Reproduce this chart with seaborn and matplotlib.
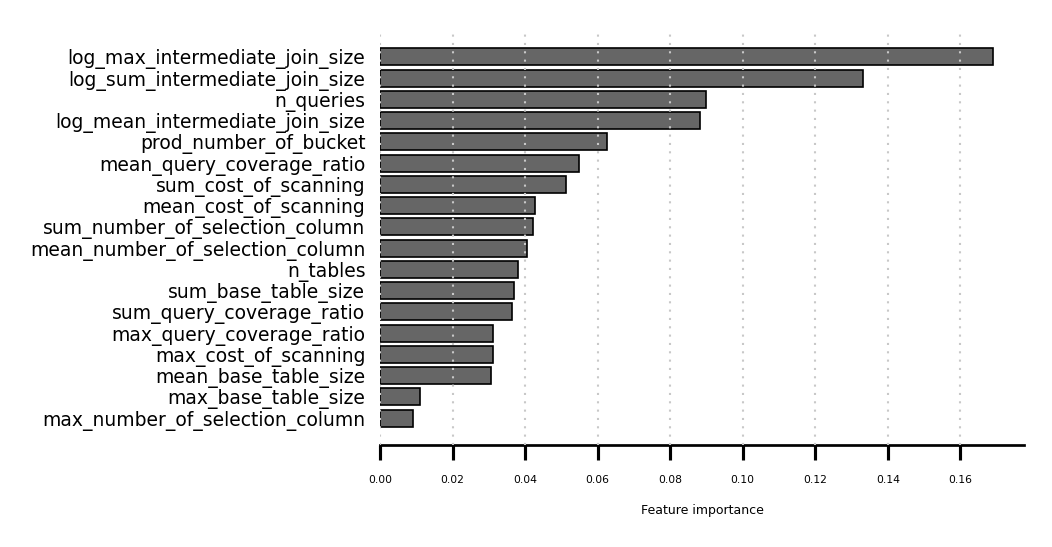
import matplotlib
matplotlib.use("Agg")
import matplotlib.pyplot as plt
import pandas as pd
import seaborn as sns

# feature importances
features = [
    "log_max_intermediate_join_size",
    "log_sum_intermediate_join_size",
    "n_queries",
    "log_mean_intermediate_join_size",
    "prod_number_of_bucket",
    "mean_query_coverage_ratio",
    "sum_cost_of_scanning",
    "mean_cost_of_scanning",
    "sum_number_of_selection_column",
    "mean_number_of_selection_column",
    "n_tables",
    "sum_base_table_size",
    "sum_query_coverage_ratio",
    "max_query_coverage_ratio",
    "max_cost_of_scanning",
    "mean_base_table_size",
    "max_base_table_size",
    "max_number_of_selection_column",
]
importance = [
    0.1691, 0.1332, 0.0898, 0.0882, 0.0627, 0.0550, 0.0514, 0.0428, 0.0423,
    0.0406, 0.0381, 0.0370, 0.0365, 0.0312, 0.0312, 0.0307, 0.0111, 0.0091,
]
xticks = [0.00, 0.02, 0.04, 0.06, 0.08, 0.10, 0.12, 0.14, 0.16]

df = pd.DataFrame({"feature": features, "importance": importance})

sns.set_style("white")
plt.rcParams["font.family"] = ["DejaVu Sans"]
plt.rcParams["text.color"] = "black"
plt.rcParams["xtick.color"] = "black"
plt.rcParams["ytick.color"] = "black"
plt.rcParams["axes.labelcolor"] = "black"

fig = plt.figure(figsize=(1052 / 150, 547 / 150), dpi=150)
ax = fig.add_axes([0.3612, 0.1857, 0.6122, 0.7602])

sns.barplot(data=df, x="importance", y="feature", orient="h", color="#666666",
            saturation=1, edgecolor="black", linewidth=0.8, width=0.8, ax=ax)

n = len(features)
ax.set_ylim(n - 1 + 1.29, -1.29)
ax.set_xlim(0, max(importance) * 1.05)
ax.set_xticks(xticks)
ax.set_xticklabels([f"{t:.2f}" for t in xticks])

ax.grid(axis="x", linestyle=(0, (1, 3)), color="#c8c8c8", linewidth=1.0)
ax.grid(axis="y", visible=False)
ax.set_axisbelow(False)

sns.despine(ax=ax, left=True)
ax.spines["bottom"].set_linewidth(1.3)
ax.spines["bottom"].set_color("black")

ax.tick_params(axis="x", length=7, width=1.5, color="black", pad=7,
               labelsize=5.2, bottom=True)
ax.tick_params(axis="y", length=0, pad=7, labelsize=9)
ax.set_ylabel("")
ax.set_xlabel("Feature importance", fontsize=6, labelpad=9.5)

fig.savefig("out.png", dpi=150)
